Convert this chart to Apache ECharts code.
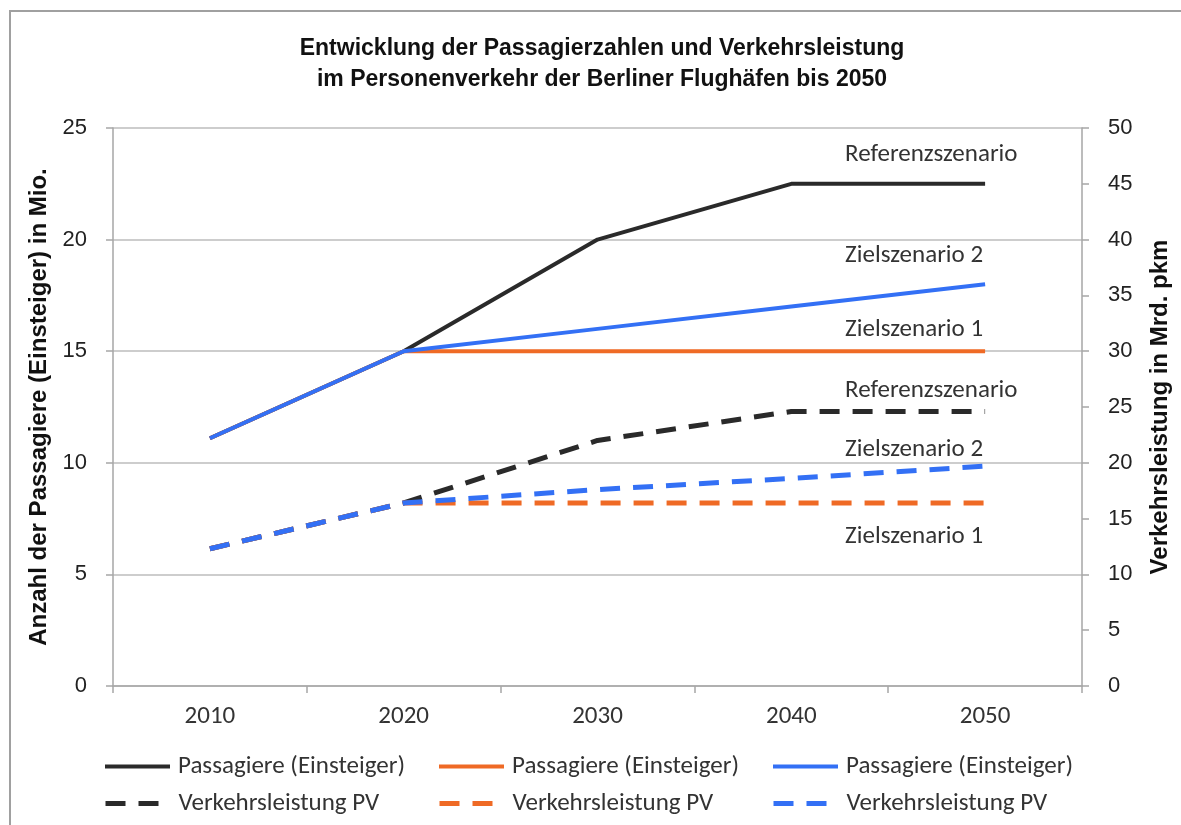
<!DOCTYPE html>
<html>
<head>
<meta charset="utf-8">
<script src="https://cdn.jsdelivr.net/npm/echarts@6/dist/echarts.min.js"></script>
<style>
html,body{margin:0;padding:0;background:#fff;}
#chart{width:1181px;height:825px;}
</style>
</head>
<body>
<div id="chart"></div>
<script>
// ---- data ----
const years = ['2010', '2020', '2030', '2040', '2050'];
const passRef   = [11.1, 15, 20, 22.5, 22.5];
const passZiel1 = [11.1, 15, 15, 15, 15];
const passZiel2 = [11.1, 15, 16, 17, 18];
const vlRef     = [12.3, 16.4, 22.0, 24.6, 24.6];
const vlZiel1   = [12.3, 16.4, 16.4, 16.4, 16.4];
const vlZiel2   = [12.3, 16.4, 17.6, 18.6, 19.7];
const scenarioNames = ['Referenzszenario', 'Zielszenario 1', 'Zielszenario 2'];
const legendPass = 'Passagiere (Einsteiger)';
const legendVL = 'Verkehrsleistung PV';
const titleLines = ['Entwicklung der Passagierzahlen und Verkehrsleistung', 'im Personenverkehr der Berliner Flughäfen bis 2050'];
const leftAxisName = 'Anzahl der Passagiere (Einsteiger) in Mio.';
const rightAxisName = 'Verkehrsleistung in Mrd. pkm';

// ---- style ----
const cBlack = '#2a2a2a', cOrange = '#ef6a25', cBlue = '#3370f5';
const narrow = "'Liberation Sans Narrow', 'Arial Narrow', 'Liberation Sans', sans-serif";
const soft = "Carlito, Lato, 'Open Sans', sans-serif";
const softSize = 25;
const dash = [20, 13];

function lineSeries(name, data, color, yIdx, dashed, labelText, dy) {
  return {
    name: name,
    type: 'line',
    yAxisIndex: yIdx,
    data: data,
    symbol: 'none',
    silent: true,
    lineStyle: { color: color, width: dashed ? 5 : 4, type: dashed ? dash : 'solid', cap: 'butt' },
    itemStyle: { color: color },
    endLabel: {
      show: true,
      formatter: () => labelText,
      distance: 0,
      align: 'left',
      verticalAlign: 'middle',
      offset: [-140, dy],
      color: '#333',
      fontFamily: soft,
      fontSize: softSize
    }
  };
}

const series = [
  lineSeries(legendPass + '|a', passRef, cBlack, 0, false, scenarioNames[0], -29),
  lineSeries(legendPass + '|b', passZiel1, cOrange, 0, false, scenarioNames[1], -21),
  lineSeries(legendPass + '|c', passZiel2, cBlue, 0, false, scenarioNames[2], -28),
  lineSeries(legendVL + '|a', vlRef, cBlack, 1, true, scenarioNames[0], -21),
  lineSeries(legendVL + '|b', vlZiel1, cOrange, 1, true, scenarioNames[1], 34),
  lineSeries(legendVL + '|c', vlZiel2, cBlue, 1, true, scenarioNames[2], -16)
];

const legendLefts = [103, 437, 771];
const legendTops = [754, 791];
const legends = [];
series.forEach((s, i) => {
  legends.push({
    data: [s.name],
    left: legendLefts[i % 3],
    top: legendTops[Math.floor(i / 3)],
    padding: 0,
    itemWidth: 65,
    itemHeight: 24,
    selectedMode: false,
    formatter: n => n.split('|')[0],
    itemStyle: { color: 'transparent', borderColor: 'transparent', borderWidth: 0, opacity: 0 },
    lineStyle: { width: s.lineStyle.width, type: s.lineStyle.type, color: s.lineStyle.color, cap: 'butt' },
    textStyle: { fontFamily: soft, fontSize: softSize, color: '#333', padding: [0, 0, 0, 3] }
  });
});

const axisGray = '#a6a6a6';
const chart = echarts.init(document.getElementById('chart'), null, { renderer: 'canvas' });
chart.setOption({
  animation: false,
  backgroundColor: '#fff',
  title: {
    text: titleLines.join('\n'),
    left: 597,
    textAlign: 'center',
    top: 28,
    textStyle: { fontFamily: narrow, fontWeight: 'bold', fontSize: 23, color: '#111', lineHeight: 31 }
  },
  graphic: [{
    type: 'rect',
    shape: { x: 10, y: 11, width: 1300, height: 1000 },
    style: { fill: 'none', stroke: '#a0a0a0', lineWidth: 2 },
    silent: true
  }],
  legend: legends,
  grid: { left: 113, right: 99, top: 128, bottom: 139, containLabel: false, outerBoundsMode: 'none' },
  xAxis: {
    type: 'category',
    data: years,
    boundaryGap: true,
    axisLine: { show: true, lineStyle: { color: axisGray, width: 1.5 } },
    axisTick: { show: true, length: 7, inside: false, lineStyle: { color: axisGray, width: 1.5 } },
    axisLabel: { margin: 18, fontFamily: soft, fontSize: softSize, color: '#333' },
    splitLine: { show: false }
  },
  yAxis: [{
    type: 'value',
    min: 0, max: 25, interval: 5,
    name: leftAxisName,
    nameLocation: 'middle',
    nameGap: 55,
    nameTextStyle: { fontFamily: narrow, fontWeight: 'bold', fontSize: 24, color: '#111' },
    axisLine: { show: true, lineStyle: { color: axisGray, width: 1.5 } },
    axisTick: { show: true, length: 7, lineStyle: { color: axisGray, width: 1.5 } },
    axisLabel: { margin: 26, fontFamily: narrow, fontSize: 22, color: '#222' },
    splitLine: { show: true, lineStyle: { color: '#bdbdbd', width: 1.5 } }
  }, {
    type: 'value',
    min: 0, max: 50, interval: 5,
    position: 'right',
    name: rightAxisName,
    nameLocation: 'middle',
    nameGap: 66,
    nameTextStyle: { fontFamily: narrow, fontWeight: 'bold', fontSize: 24, color: '#111' },
    axisLine: { show: true, lineStyle: { color: axisGray, width: 1.5 } },
    axisTick: { show: true, length: 7, lineStyle: { color: axisGray, width: 1.5 } },
    axisLabel: { margin: 26, fontFamily: narrow, fontSize: 22, color: '#222' },
    splitLine: { show: false }
  }],
  series: series
});
</script>
</body>
</html>
